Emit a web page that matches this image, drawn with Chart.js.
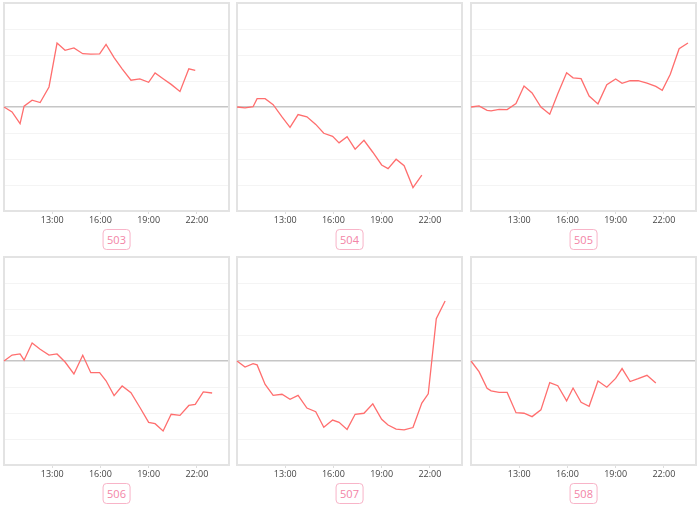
<!DOCTYPE html>
<html>
<head>
<meta charset="utf-8">
<script src="https://cdn.jsdelivr.net/npm/chart.js@4"></script>
<style>
  body { margin: 0; background: #fff; width: 700px; height: 508px; position: relative; overflow: hidden; font-family: "Open Sans", sans-serif; }
  .panel { position: absolute; width: 227px; height: 225px; }
  .tag { position: absolute; transform: translateX(-50%); border: 1.5px solid #f8b4c8; border-radius: 4px; color: #f384a6; font-size: 11px; line-height: 13px; padding: 3px 4px; background: #fff; }
</style>
</head>
<body>
<script>
// sample times, decimal hours
const times = [10, 10.5, 11, 11.25, 11.75, 12.25, 12.8, 13.3, 13.8, 14.35, 14.9, 15.4, 15.95, 16.35,
  16.85, 17.35, 17.9, 18.45, 19, 19.4, 19.9, 20.4, 20.95, 21.5, 21.9, 22.4, 22.95, 23.5];
const tickHours = [13, 16, 19, 22];
const panelNames = ['503', '504', '505', '506', '507', '508'];

const s503 = [0, -0.19, -0.64, 0.03, 0.26, 0.17, 0.77, 2.46, 2.18, 2.27, 2.05, 2.03, 2.04, 2.41,
  1.9, 1.47, 1.03, 1.08, 0.95, 1.31, 1.09, 0.87, 0.6, 1.47, 1.41];
const s504 = [0, -0.03, 0.01, 0.32, 0.32, 0.09, -0.38, -0.78, -0.29, -0.38, -0.67, -1.01, -1.13, -1.38,
  -1.14, -1.62, -1.28, -1.74, -2.23, -2.37, -2.01, -2.26, -3.1, -2.62];
const s505 = [0, 0.04, -0.13, -0.15, -0.09, -0.1, 0.13, 0.81, 0.54, 0, -0.28, 0.51, 1.32, 1.12,
  1.09, 0.42, 0.12, 0.86, 1.08, 0.91, 1.01, 1.01, 0.92, 0.79, 0.64, 1.26, 2.24, 2.46];
const s506 = [0, 0.23, 0.27, 0.03, 0.69, 0.45, 0.23, 0.27, -0.04, -0.5, 0.22, -0.45, -0.45, -0.76,
  -1.33, -0.96, -1.22, -1.78, -2.36, -2.41, -2.69, -2.05, -2.09, -1.71, -1.67, -1.19, -1.23];
const s507 = [0, -0.23, -0.1, -0.15, -0.9, -1.32, -1.28, -1.47, -1.32, -1.81, -1.95, -2.55, -2.27, -2.36,
  -2.63, -2.05, -2.01, -1.65, -2.24, -2.46, -2.62, -2.65, -2.56, -1.62, -1.26, 1.63, 2.31];
const s508 = [0, -0.41, -1.05, -1.15, -1.21, -1.21, -1.99, -2.01, -2.14, -1.88, -0.83, -0.95, -1.53, -1.04,
  -1.59, -1.74, -0.77, -1.01, -0.67, -0.29, -0.79, -0.68, -0.55, -0.85];

const series = [s503, s504, s505, s506, s507, s508];

// frame around each plot area
const boxPlugin = {
  id: 'box',
  beforeDatasetsDraw(chart) {
    const { ctx, chartArea: a } = chart;
    ctx.save();
    ctx.strokeStyle = '#e3e3e3';
    ctx.lineWidth = 2;
    ctx.strokeRect(a.left, a.top, a.right - a.left, a.bottom - a.top);
    ctx.restore();
  }
};

const colLeft = [4, 237, 471];
const rowTop = [3, 257];

series.forEach((vals, i) => {
  const left = colLeft[i % 3];
  const top = rowTop[Math.floor(i / 3)];

  const wrap = document.createElement('div');
  wrap.className = 'panel';
  wrap.style.left = (left - 1) + 'px';
  wrap.style.top = (top - 1) + 'px';
  const canvas = document.createElement('canvas');
  wrap.appendChild(canvas);
  document.body.appendChild(wrap);

  const tag = document.createElement('div');
  tag.className = 'tag';
  tag.textContent = panelNames[i];
  tag.style.left = (left + 112.5) + 'px';
  tag.style.top = (top + 226) + 'px';
  document.body.appendChild(tag);

  new Chart(canvas, {
    type: 'line',
    data: {
      datasets: [{
        data: vals.map((v, k) => ({ x: times[k], y: v })),
        borderColor: '#ff6e6e',
        borderWidth: 1.3,
        pointRadius: 0,
        tension: 0,
        clip: 4
      }]
    },
    options: {
      responsive: true,
      maintainAspectRatio: false,
      animation: false,
      layout: { padding: { left: 1, right: 1, top: 1, bottom: 0 } },
      plugins: { legend: { display: false }, tooltip: { enabled: false } },
      scales: {
        x: {
          type: 'linear',
          min: 10,
          max: 24,
          afterBuildTicks: s => { s.ticks = tickHours.map(v => ({ value: v })); },
          afterFit: s => { s.height = 16; },
          border: { display: false },
          grid: { drawOnChartArea: false, tickLength: 3, color: '#dddddd' },
          ticks: {
            padding: 1,
            color: '#444',
            font: { size: 9, family: 'Open Sans' },
            maxRotation: 0,
            callback: v => v + ':00'
          }
        },
        y: {
          min: -4,
          max: 4,
          afterFit: s => { s.width = 0; },
          border: { display: false },
          grid: {
            drawTicks: false,
            color: c => c.tick.value === 0 ? '#c6c6c6' : '#f4f4f4',
            lineWidth: c => c.tick.value === 0 ? 1.6 : 1
          },
          ticks: { display: false, stepSize: 1 }
        }
      }
    },
    plugins: [boxPlugin]
  });
});
</script>
</body>
</html>
